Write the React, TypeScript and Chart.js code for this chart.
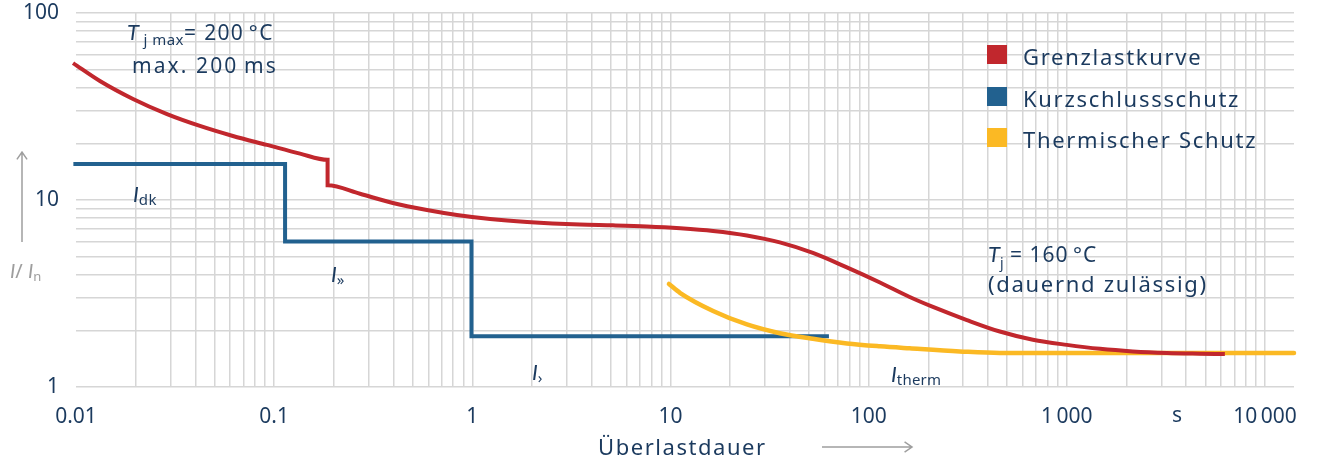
import React, { useEffect, useRef } from "react";
import { Chart, registerables } from "chart.js";

Chart.register(...registerables);

// ---------- data ----------
const seriesNames = ["Grenzlastkurve", "Kurzschlussschutz", "Thermischer Schutz"];

const grenzDauer = [0.00966, 0.0132, 0.0194, 0.0288, 0.0422, 0.0619, 0.092, 0.135, 0.186, 0.186, 0.271, 0.397, 0.59, 0.836, 1.23, 1.89, 3.49, 5.12, 7.6, 11.2, 16.4, 24.3, 35.6, 52.3, 77.6, 114, 161, 211, 313, 459, 674, 1000, 1470, 2150, 3200, 4690, 6270];
const grenzStrom = [54.0, 43.3, 34.7, 28.8, 24.9, 22.0, 19.7, 17.7, 16.4, 12.0, 10.8, 9.64, 8.84, 8.31, 7.91, 7.63, 7.39, 7.32, 7.22, 7.06, 6.83, 6.46, 5.93, 5.21, 4.36, 3.62, 3.03, 2.68, 2.28, 1.98, 1.79, 1.68, 1.6, 1.55, 1.52, 1.507, 1.5];

const kurzDauer = [0.0097, 0.1135, 0.1135, 0.99, 0.99, 63];
const kurzStrom = [15.6, 15.6, 6.0, 6.0, 1.87, 1.87];

const thermDauer = [9.82, 11.2, 16.4, 24.3, 35.6, 52.3, 77.6, 114, 161, 288, 459, 1470, 14000];
const thermStrom = [3.56, 3.18, 2.55, 2.16, 1.94, 1.81, 1.71, 1.65, 1.61, 1.55, 1.52, 1.52, 1.52];

const xDecades = [0.01, 0.1, 1, 10, 100, 1000, 10000];
const xTickLabels = ["0.01", "0.1", "1", "10", "100", "1\u2009000", "10\u2009000"];
const yDecades = [1, 10, 100];
const yTickLabels = ["1", "10", "100"];
const xMin = 0.01;
const xMax = 14000;
const yMin = 1;
const yMax = 100;
const unitValue = 3600; // position of the "s" unit on the time axis

// ---------- styles ----------
const RED = "#c1272d";
const BLUE = "#22618f";
const YELLOW = "#fbb924";
const NAVY = "#1b3a5e";
const GRID = "#d6d6d6";
const GRAY = "#9e9e9e";
const FONT = '"Noto Sans"';
const IFONT = 'Lato, "Noto Sans"';

function gridValues(decades: number[], max: number) {
  const out: number[] = [];
  for (const d of decades) {
    for (let k = 1; k < 10; k++) {
      const v = d * k;
      if (v <= max * 1.0001) out.push(v);
    }
  }
  return out;
}

function labelFor(v: number, decades: number[], labels: string[]) {
  for (let i = 0; i < decades.length; i++) {
    if (Math.abs(v - decades[i]) / decades[i] < 1e-6) return labels[i];
  }
  return "";
}

type Seg = { t: string; size: number; italic?: boolean; dy?: number; ls?: number };

function drawRich(ctx: CanvasRenderingContext2D, x: number, y: number, segs: Seg[], color: string, spacing: number) {
  let cx = x;
  ctx.fillStyle = color;
  ctx.textBaseline = "alphabetic";
  ctx.textAlign = "left";
  for (const s of segs) {
    ctx.font = s.italic ? `italic ${s.size}px ${IFONT}` : `${s.size}px ${FONT}`;
    (ctx as any).letterSpacing = (s.ls ?? spacing) + "px";
    ctx.fillText(s.t, cx, y + (s.dy || 0));
    cx += ctx.measureText(s.t).width;
  }
  (ctx as any).letterSpacing = "0px";
}

function arrow(ctx: CanvasRenderingContext2D, x1: number, y1: number, x2: number, y2: number) {
  ctx.save();
  ctx.strokeStyle = GRAY;
  ctx.lineWidth = 1.5;
  ctx.beginPath();
  ctx.moveTo(x1, y1);
  ctx.lineTo(x2, y2);
  const a = Math.atan2(y2 - y1, x2 - x1);
  const L = 9;
  ctx.moveTo(x2 - L * Math.cos(a - 0.6), y2 - L * Math.sin(a - 0.6));
  ctx.lineTo(x2, y2);
  ctx.lineTo(x2 - L * Math.cos(a + 0.6), y2 - L * Math.sin(a + 0.6));
  ctx.stroke();
  ctx.restore();
}

const decorPlugin = {
  id: "decor",
  afterDraw(chart: any) {
    const ctx: CanvasRenderingContext2D = chart.ctx;
    ctx.save();
    // legend
    const ds = chart.data.datasets;
    const rows = [45, 87, 128];
    ds.forEach((d: any, i: number) => {
      ctx.fillStyle = d.borderColor;
      ctx.fillRect(987, rows[i], 20, 19);
      drawRich(ctx, 1023, rows[i] + 20, [{ t: d.label, size: 22 }], NAVY, 1.7);
    });

    // annotations
    drawRich(ctx, 127, 40, [
      { t: "T", size: 22, italic: true, ls: 0 },
      { t: " j max", size: 15, dy: 5, ls: 0.5 },
      { t: "= 200\u2009°C", size: 21 },
    ], NAVY, 1.3);
    drawRich(ctx, 132, 73, [{ t: "max. 200\u2009ms", size: 21 }], NAVY, 2.1);

    drawRich(ctx, 133, 202, [
      { t: "I", size: 22, italic: true, ls: 0 },
      { t: "dk", size: 15, dy: 3, ls: 0.3 },
    ], NAVY, 0);
    drawRich(ctx, 331, 282, [
      { t: "I", size: 22, italic: true, ls: 0 },
      { t: "»", size: 15, dy: 3, ls: 0 },
    ], NAVY, 0);
    drawRich(ctx, 532, 380, [
      { t: "I", size: 22, italic: true, ls: 0 },
      { t: "›", size: 15, dy: 3, ls: 0 },
    ], NAVY, 0);
    drawRich(ctx, 891, 382, [
      { t: "I", size: 22, italic: true, ls: 0 },
      { t: "therm", size: 15, dy: 3, ls: 0.2 },
    ], NAVY, 0);

    drawRich(ctx, 988, 262, [
      { t: "T", size: 22, italic: true, ls: 0 },
      { t: "j", size: 14, dy: 6, ls: 0 },
      { t: " = 160\u2009°C", size: 21 },
    ], NAVY, 1.0);
    drawRich(ctx, 988, 292, [{ t: "(dauernd zulässig)", size: 22 }], NAVY, 1.7);

    // unit "s" on the x axis
    const xs = chart.scales.x;
    ctx.font = `21px ${FONT}`;
    ctx.fillStyle = NAVY;
    ctx.textAlign = "center";
    ctx.textBaseline = "middle";
    ctx.fillText("s", xs.getPixelForValue(unitValue), 416);

    // x title + arrow
    drawRich(ctx, 598, 455, [{ t: "Überlastdauer", size: 22 }], NAVY, 1.55);
    arrow(ctx, 822, 447, 912, 447);

    // y title + arrow
    arrow(ctx, 22, 242, 22, 152);
    drawRich(ctx, 10, 278, [
      { t: "I", size: 20, italic: true, ls: 0 },
      { t: "/ ", size: 20, ls: 0 },
      { t: "I", size: 20, italic: true, ls: 0 },
      { t: "n", size: 13, dy: 3, ls: 0 },
    ], GRAY, 0);
    ctx.restore();
  },
};

export default function App() {
  const ref = useRef<HTMLCanvasElement | null>(null);

  useEffect(() => {
    document.body.style.margin = "0";
    const canvas = ref.current;
    if (!canvas) return;

    const xGrid = gridValues(xDecades, xMax);
    const yGrid = gridValues(yDecades, yMax);

    const chart = new Chart(canvas, {
      type: "line",
      data: {
        datasets: [
          {
            label: seriesNames[0],
            data: grenzDauer.map((x, i) => ({ x, y: grenzStrom[i] })),
            borderColor: RED,
            backgroundColor: RED,
            borderWidth: 4,
            pointRadius: 0,
            cubicInterpolationMode: "monotone",
            borderJoinStyle: "miter",
            order: 0,
            clip: 6,
          },
          {
            label: seriesNames[1],
            data: kurzDauer.map((x, i) => ({ x, y: kurzStrom[i] })),
            borderColor: BLUE,
            backgroundColor: BLUE,
            borderWidth: 4,
            pointRadius: 0,
            tension: 0,
            borderJoinStyle: "miter",
            order: 2,
            clip: 6,
          },
          {
            label: seriesNames[2],
            data: thermDauer.map((x, i) => ({ x, y: thermStrom[i] })),
            borderColor: YELLOW,
            backgroundColor: YELLOW,
            borderWidth: 4.5,
            pointRadius: 0,
            cubicInterpolationMode: "monotone",
            borderCapStyle: "round",
            order: 1,
            clip: 6,
          },
        ],
      },
      options: {
        animation: false,
        responsive: false,
        maintainAspectRatio: false,
        devicePixelRatio: 1,
        layout: { padding: { top: 13, right: 24, left: 0, bottom: 0 } },
        plugins: {
          legend: { display: false },
          tooltip: { enabled: false },
        },
        scales: {
          x: {
            type: "logarithmic",
            position: "bottom",
            min: xMin,
            max: xMax,
            afterBuildTicks: (scale: any) => {
              scale.ticks = xGrid.map((v) => ({ value: v }));
            },
            afterFit: (scale: any) => {
              scale.height = 74;
              scale.paddingLeft = 0;
              scale.paddingRight = 0;
            },
            ticks: {
              autoSkip: false,
              maxRotation: 0,
              minRotation: 0,
              padding: 17,
              color: NAVY,
              font: { family: FONT, size: 21 },
              callback: (v: any) => labelFor(Number(v), xDecades, xTickLabels),
            },
            grid: {
              drawTicks: false,
              lineWidth: 1.5,
              color: (c: any) =>
                c.tick && Math.abs(c.tick.value - xMin) / xMin < 1e-6 ? "rgba(0,0,0,0)" : GRID,
            },
            border: { display: false },
          },
          y: {
            type: "logarithmic",
            position: "left",
            min: yMin,
            max: yMax,
            afterBuildTicks: (scale: any) => {
              scale.ticks = yGrid.map((v) => ({ value: v }));
            },
            afterFit: (scale: any) => {
              scale.width = 76;
              scale.paddingTop = 0;
              scale.paddingBottom = 0;
            },
            ticks: {
              autoSkip: false,
              padding: 17,
              color: NAVY,
              font: { family: FONT, size: 21 },
              callback: (v: any) => labelFor(Number(v), yDecades, yTickLabels),
            },
            grid: {
              drawTicks: false,
              lineWidth: 1.5,
              color: GRID,
            },
            border: { display: false },
          },
        },
      } as any,
      plugins: [decorPlugin],
    });

    return () => chart.destroy();
  }, []);

  return (
    <div style={{ width: 1318, height: 461, background: "#ffffff" }}>
      <canvas ref={ref} width={1318} height={461} style={{ display: "block" }} />
    </div>
  );
}
